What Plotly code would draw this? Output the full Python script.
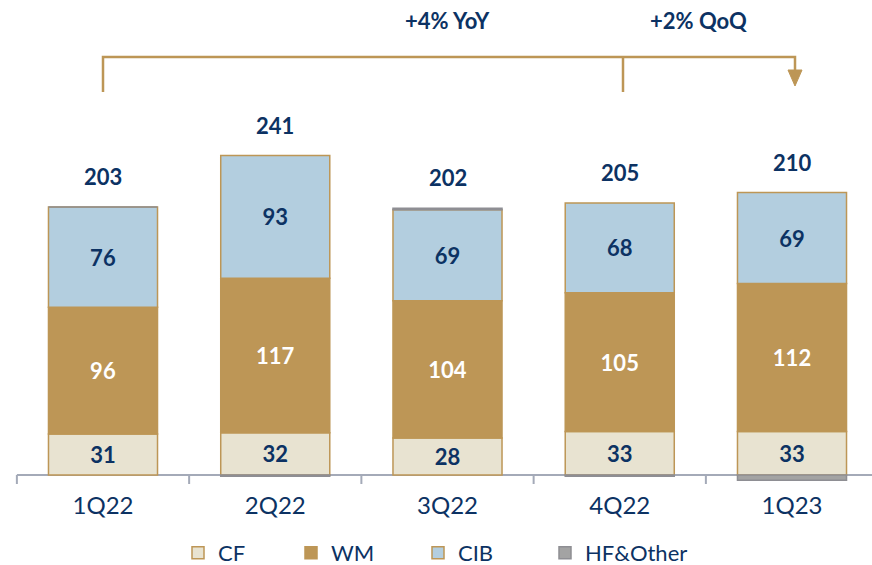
import plotly.graph_objects as go

categories = ["1Q22", "2Q22", "3Q22", "4Q22", "1Q23"]
cf = [31, 32, 28, 33, 33]
wm = [96, 117, 104, 105, 112]
cib = [76, 93, 69, 68, 69]
hf_other = [0, -1, 1, -1, -4]
totals = [203, 241, 202, 205, 210]
yoy_text = "+4% YoY"
qoq_text = "+2% QoQ"

NAVY = "#0C3263"
TAN = "#BD9656"
CF_FILL = "#E8E3D1"
CIB_FILL = "#B3CEDF"
HF_FILL = "#A3A3A3"
HF_LINE = "#8E8E93"
AXIS = "#A4AAB8"
FONT = "Lato"

W, H = 872, 565
PLOT_BOTTOM = 485  # px
BASE = 475  # px of zero line
SCALE = 1.32  # px per unit
CAT0 = 103.0
STEP = 172.25

def py(px):
    return (BASE - px) / SCALE

def pxx(px):
    return (px - CAT0) / STEP

x = list(range(len(categories)))
bw = 0.633

fig = go.Figure()
seg_font = dict(family=FONT, size=22, color=NAVY)
fig.add_bar(x=x, y=cf, name="CF", width=bw, legend="legend",
            marker=dict(color=CF_FILL, line=dict(color=TAN, width=1.5)),
            text=cf, texttemplate="<b>%{text}</b>", textposition="inside",
            insidetextanchor="middle", textfont=seg_font, hoverinfo="skip")
fig.add_bar(x=x, y=wm, name="WM", width=bw, legend="legend2",
            marker=dict(color=TAN, line=dict(color=TAN, width=1.5)),
            text=wm, texttemplate="<b>%{text}</b>", textposition="inside",
            insidetextanchor="middle", textfont=dict(family=FONT, size=22, color="white"), hoverinfo="skip")
fig.add_bar(x=x, y=cib, name="CIB", width=bw, legend="legend3",
            marker=dict(color=CIB_FILL, line=dict(color=TAN, width=1.5)),
            text=cib, texttemplate="<b>%{text}</b>", textposition="inside",
            insidetextanchor="middle", textfont=seg_font, hoverinfo="skip")
fig.add_bar(x=x, y=hf_other, name="HF&Other", width=bw, legend="legend4",
            marker=dict(color=HF_FILL, line=dict(color=HF_LINE, width=1.5)),
            hoverinfo="skip")

# totals above bars
for i, t in enumerate(totals):
    pos_top = cf[i] + wm[i] + cib[i] + max(hf_other[i], 0)
    fig.add_annotation(x=i, y=pos_top, text=f"<b>{t}</b>", showarrow=False,
                       yanchor="bottom", yshift=15,
                       font=dict(family=FONT, size=22, color=NAVY))

# baseline and tick marks
fig.add_shape(type="line", xref="x", yref="y", x0=-0.5, x1=4.5, y0=0, y1=0,
              line=dict(color=AXIS, width=2), layer="below")
for i in range(len(categories) + 1):
    fig.add_shape(type="line", xref="x", yref="y", x0=i - 0.5, x1=i - 0.5,
                  y0=0, y1=py(484), line=dict(color=AXIS, width=2), layer="below")

# growth bracket
top_y = py(57)
low_y = py(92)
fig.add_shape(type="path",
              path=f"M {0.0} {low_y} L {0.0} {top_y} L {pxx(795)} {top_y} L {pxx(795)} {py(72)}",
              xref="x", yref="y", line=dict(color=TAN, width=2.5))
fig.add_shape(type="line", xref="x", yref="y", x0=pxx(623), x1=pxx(623),
              y0=top_y, y1=low_y, line=dict(color=TAN, width=2.5))
fig.add_shape(type="path",
              path=f"M {pxx(788)} {py(70)} L {pxx(802)} {py(70)} L {pxx(795)} {py(86)} Z",
              xref="x", yref="y", fillcolor=TAN, line=dict(color=TAN, width=1))
fig.add_annotation(x=pxx(447), y=py(20), text=f"<b>{yoy_text}</b>", showarrow=False,
                   font=dict(family=FONT, size=22, color=NAVY))
fig.add_annotation(x=pxx(698), y=py(20), text=f"<b>{qoq_text}</b>", showarrow=False,
                   font=dict(family=FONT, size=22, color=NAVY))

leg_y = (PLOT_BOTTOM - 553) / PLOT_BOTTOM
leg_common = dict(orientation="h", xanchor="left", y=leg_y, yanchor="middle",
                  font=dict(family=FONT, size=22, color=NAVY),
                  bgcolor="rgba(0,0,0,0)")
leg_x = [178, 291, 418, 545]

fig.update_layout(
    width=W, height=H,
    barmode="relative",
    plot_bgcolor="white", paper_bgcolor="white",
    margin=dict(l=0, r=0, t=0, b=H - PLOT_BOTTOM, autoexpand=False),
    showlegend=True,
    legend=dict(x=leg_x[0] / W, **leg_common),
    legend2=dict(x=leg_x[1] / W, **leg_common),
    legend3=dict(x=leg_x[2] / W, **leg_common),
    legend4=dict(x=leg_x[3] / W, **leg_common),
    xaxis=dict(range=[pxx(0), pxx(W)], tickvals=x, ticktext=categories,
               showgrid=False, zeroline=False, showline=False, ticks="",
               ticklabelstandoff=4, automargin=False,
               tickfont=dict(family=FONT, size=24, color=NAVY)),
    yaxis=dict(range=[py(PLOT_BOTTOM), py(0)], visible=False, showgrid=False,
               zeroline=False, automargin=False),
)

fig.write_html("out.html", config={"displayModeBar": False},
               post_script="document.body.style.margin='0';document.body.style.overflow='hidden';")
